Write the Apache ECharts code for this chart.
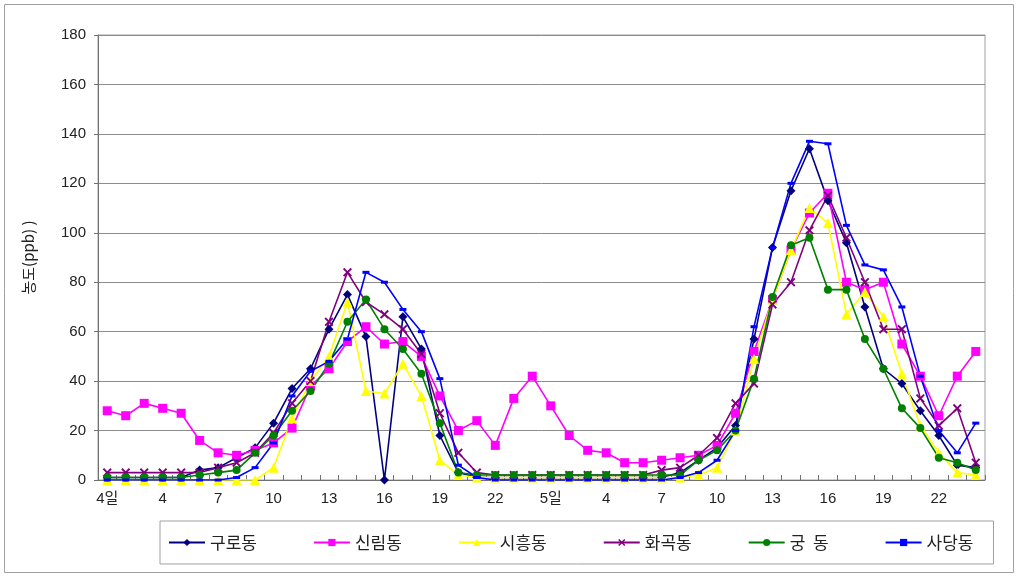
<!DOCTYPE html>
<html>
<head>
<meta charset="utf-8">
<script src="https://cdn.jsdelivr.net/npm/echarts@6/dist/echarts.min.js"></script>
<style>
  html, body { margin: 0; padding: 0; background: #fff; }
  #chart { width: 1019px; height: 577px; }
</style>
</head>
<body>
<div id="chart"></div>
<script>
// Hourly categories for two days (hour 1 of each day carries the day label)
const hours = [
  '4일','2','3','4','5','6','7','8','9','10','11','12','13','14','15','16','17','18','19','20','21','22','23','24',
  '5일','2','3','4','5','6','7','8','9','10','11','12','13','14','15','16','17','18','19','20','21','22','23','24'
];

// Concentration (ppb) per station
const guro = [1,1,1,1,1,4,5,9,13,23,37,45,61,75,58,0,66,53,18,3,1,1,1,1,
              1,1,1,1,1,1,1,3,8,13,22,57,94,117,134,113,96,70,45,39,28,18,6,5];
const sillim = [28,26,31,29,27,16,11,10,12,15,21,38,45,56,62,55,56,50,34,20,24,14,33,42,
                30,18,12,11,7,7,8,9,10,14,27,52,73,93,108,116,80,77,80,55,42,26,42,52];
const siheung = [0,0,0,0,0,0,0,0,0,5,25,40,50,72,36,35,47,34,8,2,1,1,1,1,
                 1,1,1,1,1,1,1,1,2,5,20,49,73,93,110,104,67,76,66,43,22,11,3,2];
const hwagok = [3,3,3,3,3,3,5,7,11,19,31,40,64,84,72,67,61,51,27,11,3,2,2,2,
                2,2,2,2,2,2,4,5,10,17,31,39,71,80,101,115,98,80,61,61,33,22,29,7];
const gung = [1,1,1,1,1,2,3,4,11,18,28,36,47,64,73,61,53,43,23,3,2,2,2,2,
              2,2,2,2,2,2,2,2,8,12,20,41,74,95,98,77,77,57,45,29,21,9,7,4];
const sadang = [0,0,0,0,0,0,0,1,5,15,34,44,48,57,84,80,69,60,41,6,1,0,0,0,
                0,0,0,0,0,0,0,1,3,8,20,62,94,120,137,136,103,87,85,70,42,20,11,23];

const stationNames = ['구로동','신림동','시흥동','화곡동','궁  동','사당동'];
const yTicks = { min: 0, max: 180, step: 20 };

const xMark = 'path://M0,1.5 L1.5,0 L5,3.5 L8.5,0 L10,1.5 L6.5,5 L10,8.5 L8.5,10 L5,6.5 L1.5,10 L0,8.5 L3.5,5 Z';

const styles = [
  { color: '#000080', symbol: 'diamond', size: 9 },
  { color: '#ff00ff', symbol: 'rect', size: 9 },
  { color: '#ffff00', symbol: 'triangle', size: 10 },
  { color: '#800080', symbol: xMark, size: 9 },
  { color: '#008000', symbol: 'circle', size: 8 },
  { color: '#0000ff', symbol: 'rect', size: [7, 3] }
];
const values = [guro, sillim, siheung, hwagok, gung, sadang];

const font = '"Liberation Sans", "Noto Sans CJK KR", sans-serif';

const chart = echarts.init(document.getElementById('chart'), null, { renderer: 'canvas' });
chart.setOption({
  animation: false,
  backgroundColor: '#ffffff',
  textStyle: { fontFamily: font },
  graphic: [{
    type: 'rect',
    shape: { x: 4.5, y: 4.5, width: 1009, height: 568 },
    style: { fill: 'none', stroke: '#a0a0a0', lineWidth: 1 },
    silent: true
  }],
  grid: {
    left: 98, right: 34, top: 35, bottom: 97,
    show: true, borderColor: '#a0a0a0', borderWidth: 1, backgroundColor: 'transparent'
  },
  legend: {
    left: 160, top: 521,
    padding: [13, 20, 13, 8],
    itemGap: 56,
    itemWidth: 36, itemHeight: 9,
    borderColor: '#a0a0a0', borderWidth: 1,
    backgroundColor: '#fff',
    textStyle: { fontSize: 17, color: '#222', fontFamily: '"Noto Sans CJK KR", sans-serif' },
    data: stationNames
  },
  xAxis: {
    type: 'category',
    data: hours,
    boundaryGap: true,
    axisLine: { lineStyle: { color: '#707070', width: 1 } },
    axisTick: { show: true, inside: true, length: 5, interval: 0, lineStyle: { color: '#707070' } },
    axisLabel: { interval: 2, fontSize: 15, color: '#222', margin: 11, fontFamily: font },
    splitLine: { show: false }
  },
  yAxis: {
    type: 'value',
    min: yTicks.min, max: yTicks.max, interval: yTicks.step,
    name: '농도(ppb) )',
    nameLocation: 'middle',
    nameRotate: 90,
    nameGap: 62,
    nameTextStyle: { fontSize: 15, color: '#222', fontFamily: '"Noto Sans CJK KR", sans-serif' },
    axisLine: { show: true, lineStyle: { color: '#707070', width: 1 } },
    axisTick: { show: true, length: 4, lineStyle: { color: '#707070' } },
    axisLabel: { fontSize: 15, color: '#222', margin: 12, fontFamily: font },
    splitLine: { show: true, lineStyle: { color: '#8c8c8c', width: 1 } }
  },
  series: stationNames.map((name, k) => ({
    name: name,
    type: 'line',
    data: values[k],
    symbol: styles[k].symbol,
    symbolSize: styles[k].size,
    showAllSymbol: true,
    lineStyle: { color: styles[k].color, width: 1.6 },
    itemStyle: { color: styles[k].color, borderWidth: 0 },
    emphasis: { disabled: true }
  }))
});
</script>
</body>
</html>
